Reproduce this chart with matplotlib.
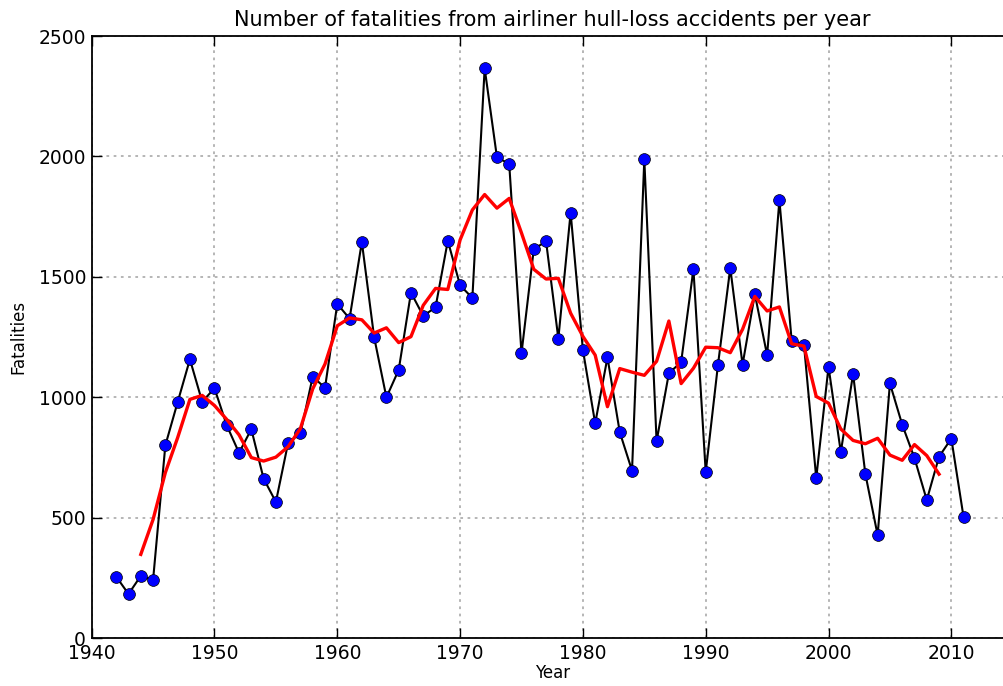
import numpy as np
import pandas as pd
import matplotlib
matplotlib.use("Agg")
import matplotlib.pyplot as plt

years = list(range(1942, 2012))
fatalities = [256, 184, 259, 242, 801, 980, 1158, 982, 1038, 884,
              770, 868, 663, 566, 812, 851, 1086, 1040, 1388, 1327,
              1645, 1250, 1000, 1114, 1435, 1338, 1374, 1650, 1465, 1413,
              2366, 1997, 1969, 1183, 1615, 1648, 1244, 1767, 1197, 892,
              1166, 856, 696, 1988, 818, 1100, 1147, 1532, 690, 1136,
              1537, 1136, 1429, 1175, 1819, 1235, 1219, 665, 1127, 773,
              1097, 682, 428, 1058, 887, 748, 574, 754, 829, 502]
window = 5

xticks = [1940, 1950, 1960, 1970, 1980, 1990, 2000, 2010]
yticks = [0, 500, 1000, 1500, 2000, 2500]

s = pd.Series(fatalities, index=years)
# centred 5-year running mean (red curve)
smooth = s.rolling(window, center=True).mean()

fig = plt.figure(figsize=(10.04, 6.86), dpi=100)
fig.patch.set_facecolor("white")
ax = fig.add_axes([0.0913, 0.0695, 0.9174, 0.878])

ax.plot(s.index, s.values, "-", color="black", lw=1.5, zorder=2)
ax.plot(s.index, s.values, "o", color="blue", mec="black", mew=0.5,
        ms=8.5, zorder=3)
ax.plot(smooth.index, smooth.values, "-", color="red", lw=2.4, zorder=4)

ax.set_xlim(1940, 2015)
ax.set_ylim(0, 2500)
ax.set_xticks(xticks)
ax.set_yticks(yticks)
ax.tick_params(direction="in", length=7, width=1, top=True, right=True,
               labelsize=13.5, pad=4)
ax.grid(True, color="#b0b0b0", linestyle=(0, (1.5, 2.5)), lw=1.3)
ax.set_axisbelow(True)
for sp in ax.spines.values():
    sp.set_linewidth(1.3)

ax.set_title("Number of fatalities from airliner hull-loss accidents per year",
             fontsize=15, pad=7)
ax.set_xlabel("Year", fontsize=12, labelpad=1)
ax.set_ylabel("Fatalities", fontsize=12, labelpad=8)

fig.savefig("out.png", dpi=100, facecolor="white")
